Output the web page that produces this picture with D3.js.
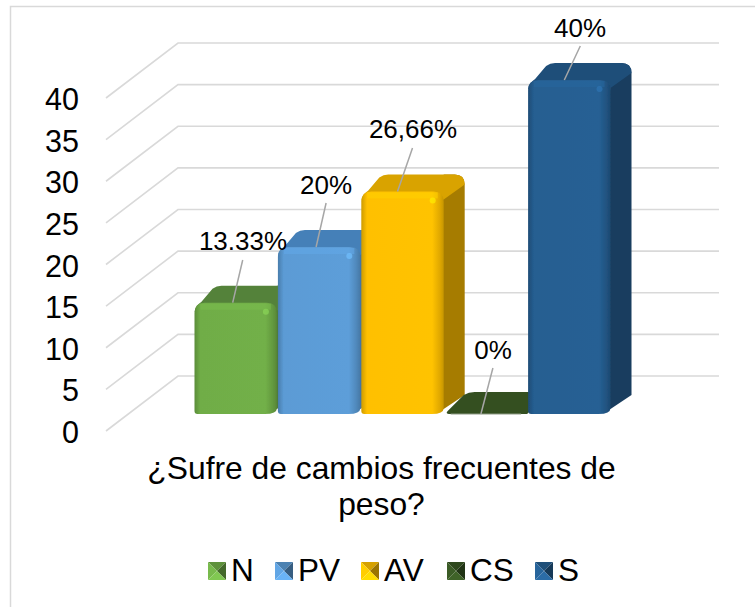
<!DOCTYPE html>
<html><head><meta charset="utf-8">
<script src="https://cdn.jsdelivr.net/npm/d3@7/dist/d3.min.js"></script>
<style>html,body{margin:0;padding:0;background:#fff}svg{display:block}text{font-family:"Liberation Sans",Arial,sans-serif;fill:#000}</style>
</head><body><div id="c"></div>
<script>
const categories = ["N","PV","AV","CS","S"];
const values = [13.33,20,26.66,0,40];
const labels = ["13.33%","20%","26,66%","0%","40%"];
const ticks = [0,5,10,15,20,25,30,35,40];
const fronts = ["#70ad47","#5b9bd5","#ffc000","#375623","#255e91"];
const tops = ["#54823a","#4580b8","#d9a300","#344f20","#1e4e79"];
const sides = ["#4e7a31","#3f74a8","#a67c00","#2a4119","#193d5f"];
const titleLines = ["¿Sufre de cambios frecuentes de","peso?"];
const labelX = [243,326,413,493,580];
const labelBaseline = [250,194,138,359,37];
const legendX = [208,275,361,447,535];

const W=755,H=607;
const svg=d3.select("#c").append("svg").attr("width",W).attr("height",H);
const defs=svg.append("defs");
defs.append("filter").attr("id","soft").append("feGaussianBlur").attr("stdDeviation",0.6);
svg.append("rect").attr("x",10.5).attr("y",6.5).attr("width",W).attr("height",H).attr("fill","#fff").attr("stroke","#d9d9d9").attr("stroke-width",1.5);

const y=d3.scaleLinear().domain([0,40]).range([431,98]);
const depthX=72, depthY=-55;
const frontX=106, wallRight=719;

const grid=svg.append("g").attr("fill","none").attr("stroke","#d9d9d9").attr("stroke-width",1.6);
ticks.forEach(t=>{
  grid.append("path").attr("d",d3.line()([[frontX,y(t)],[frontX+depthX,y(t)+depthY],[wallRight,y(t)+depthY]]));
});
svg.append("g").selectAll("text").data(ticks).join("text")
  .attr("x",79).attr("y",t=>y(t)+12).attr("text-anchor","end").attr("font-size",30.5).text(d=>d);

const x=d3.scaleBand().domain(categories).range([194,611]).padding(0);
const bar0=d3.scaleLinear().domain([0,40]).range([414,80]);
const dX=21,dY=-17,r=10;
categories.forEach((c,i)=>{
  const g=defs.append("linearGradient").attr("id","f"+i);
  const base=d3.color(fronts[i]);
  [[0,base.darker(0.6)],[0.07,base],[0.86,base.brighter(0.05)],[0.95,base.darker(0.35)],[1,base.darker(0.7)]].forEach(s=>g.append("stop").attr("offset",s[0]).attr("stop-color",s[1]));
});
const gb=svg.append("g");
categories.forEach((c,i)=>{
  const x0=x(c)+0.5, x1=x0+x.bandwidth()-1, yb=bar0(0), yt=bar0(values[i]);
  const G=gb.append("g");
  if(values[i]>0){
    G.append("path").attr("fill",sides[i])
      .attr("d",`M${x1-6},${yb-1} L${x1+dX},${yb+dY-2} L${x1+dX},${yt+dY+10} Q${x1+dX},${yt+dY} ${x1+dX-10},${yt+dY} L${x1},${yt+dY} Z`);
    G.append("path").attr("fill",tops[i])
      .attr("d",`M${x0},${yt+9} Q${x0+1},${yt+3} ${x0+7},${yt-1} L${x0+dX-3},${yt+dY+3} Q${x0+dX+1},${yt+dY} ${x0+dX+6},${yt+dY} L${x1+dX-10},${yt+dY} Q${x1+dX},${yt+dY} ${x1+dX},${yt+dY+10} L${x1},${yt+8} Z`);
    G.append("path").attr("fill",`url(#f${i})`).attr("filter","url(#soft)")
      .attr("d",`M${x0},${yt+r} Q${x0},${yt} ${x0+r},${yt} L${x1-r},${yt} Q${x1},${yt} ${x1},${yt+r} L${x1},${yb-6} Q${x1},${yb} ${x1-12},${yb} L${x0+3},${yb} Q${x0},${yb} ${x0},${yb-3} Z`);
    G.append("rect").attr("x",x0+6).attr("y",yt+1).attr("width",x1-x0-12).attr("height",6).attr("fill",d3.color(fronts[i]).brighter(0.25)).attr("opacity",.55).attr("filter","url(#soft)");
    G.append("circle").attr("cx",x1-11).attr("cy",yt+9).attr("r",3).attr("fill",d3.color(fronts[i]).brighter(0.6)).attr("opacity",.7).attr("filter","url(#soft)");
  } else {
    G.append("path").attr("fill",tops[i])
      .attr("d",`M${x0+6},${yb} Q${x0},${yb} ${x0+3},${yb-3} L${x0+dX-2},${yb-19} Q${x0+dX+3},${yb-22} ${x0+dX+9},${yb-22} L${x1+dX},${yb-22} L${x1},${yb} Z`);
    G.append("path").attr("fill","none").attr("stroke","#8d9a84").attr("stroke-width",1)
      .attr("d",`M${x0+6},${yb} L${x1-6},${yb}`);
  }
});

const cx=c=>x(c)+x.bandwidth()/2;
const lab=svg.append("g");
const leaderBottomDX=[-3,-3,-5,-5,-5];
const leaderRun=[10,10,15,12,16];
const leaderTop=[260,203,148,368,46];
categories.forEach((c,i)=>{
  const px=cx(c)+leaderBottomDX[i], py=bar0(values[i]);
  lab.append("line").attr("x1",px).attr("y1",py).attr("x2",px+leaderRun[i]).attr("y2",leaderTop[i]).attr("stroke","#a6a6a6").attr("stroke-width",1.5);
  lab.append("text").attr("x",labelX[i]).attr("y",labelBaseline[i]).attr("text-anchor","middle").attr("font-size",26).text(labels[i]);
});

svg.append("g").selectAll("text").data(titleLines).join("text")
  .attr("x",381.5).attr("y",(d,i)=>478.5+i*36.5).attr("text-anchor","middle").attr("font-size",31.8).text(d=>d);

const lg=svg.append("g");
categories.forEach((c,i)=>{
  const s=18,x0=legendX[i],y0=562,b=d3.color(fronts[i]);
  const tri=(pts,f)=>lg.append("path").attr("d",d3.line()(pts)+"Z").attr("fill",f);
  const m=[x0+s/2,y0+s/2];
  tri([[x0,y0],[x0+s,y0],m],b.darker(0.5));
  tri([[x0,y0],[x0,y0+s],m],b.brighter(0.2));
  tri([[x0+s,y0],[x0+s,y0+s],m],b.darker(1.4));
  tri([[x0,y0+s],[x0+s,y0+s],m],b.brighter(0.4));
  lg.append("text").attr("x",x0+s+5).attr("y",y0+19).attr("font-size",31.5).text(c);
});
</script></body></html>
